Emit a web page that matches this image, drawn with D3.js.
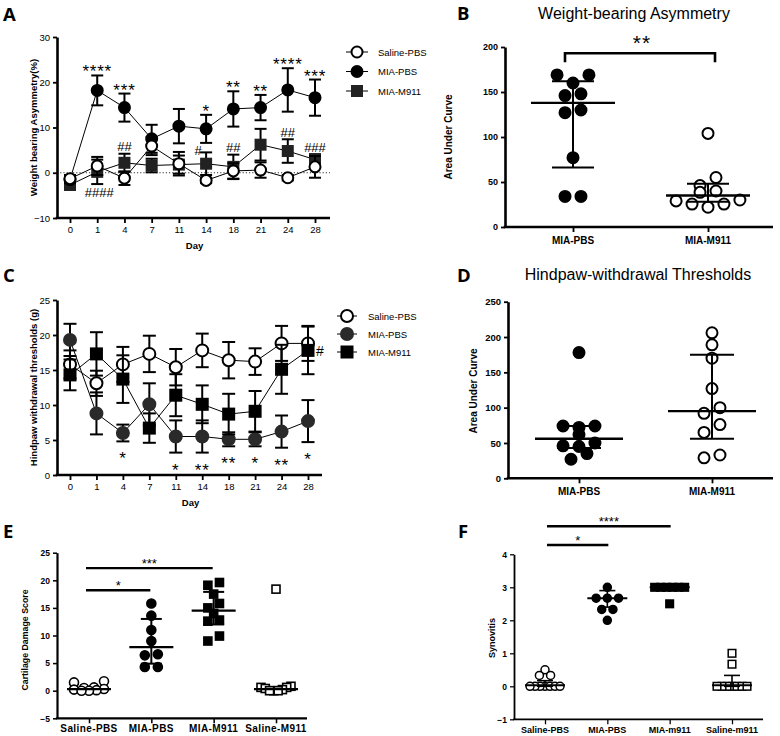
<!DOCTYPE html>
<html><head><meta charset="utf-8">
<script src="https://cdn.jsdelivr.net/npm/d3@7"></script>
<style>body{margin:0;background:#fff} svg{display:block}</style>
</head><body><svg id="c" width="780" height="736"></svg>
<script>
// ---------- DATA ----------
const days = ["0","1","4","7","11","14","18","21","24","28"];
const groupNames = ["Saline-PBS","MIA-PBS","MIA-M911"];

// Panel A: weight bearing asymmetry (%), mean and SEM
const wbSaline    = [-1.3, 1.5, -1.2, 5.9, 2.0, -1.7, 0.4, 0.6, -1.1, 1.3];
const wbSalineErr = [0.8, 2.0, 1.5, 2.0, 2.6, 0.6, 1.7, 1.7, 0.6, 2.4];
const wbMia       = [-1.5, 18.2, 14.4, 7.5, 10.3, 9.7, 14.1, 14.4, 18.3, 16.6];
const wbMiaErr    = [0.8, 3.3, 3.1, 3.1, 3.8, 3.1, 3.9, 2.8, 4.8, 4.0];
const wbM911      = [-2.7, 0.2, 2.2, 1.6, 1.8, 2.0, 1.3, 6.2, 4.8, 2.9];
const wbM911Err   = [1.0, 2.7, 2.0, 1.5, 2.0, 2.5, 2.7, 3.5, 2.6, 1.2];
const wbStars     = ["", "****", "***", "", "", "*", "**", "**", "****", "***"];
const wbHashAbove = ["", "", "##", "", "", "#", "##", "", "##", "###"];
const wbHashBelow = ["", "####", "", "", "", "", "", "", "", ""];

// Panel C: hindpaw withdrawal thresholds (g), mean and SEM
const hwSaline    = [15.8, 13.1, 15.8, 17.3, 15.4, 17.8, 16.4, 16.2, 18.8, 18.8];
const hwSalineErr = [2.0, 1.8, 2.5, 2.6, 2.6, 2.4, 2.6, 1.9, 2.5, 2.5];
const hwMia       = [19.3, 8.8, 6.0, 10.1, 5.5, 5.5, 5.1, 5.1, 6.2, 7.7];
const hwMiaErr    = [2.3, 3.0, 1.2, 3.0, 2.3, 2.3, 1.0, 1.0, 2.3, 3.0];
const hwM911      = [14.3, 17.3, 13.7, 6.7, 11.4, 10.1, 8.7, 9.1, 15.1, 17.8];
const hwM911Err   = [2.2, 3.1, 3.4, 2.1, 3.0, 2.7, 2.9, 2.9, 3.5, 3.4];
const hwStars     = ["", "", "*", "", "*", "**", "**", "*", "**", "*"];
const hwHash      = ["", "", "", "", "", "", "", "", "", "#"];

// Panel B: weight-bearing AUC
const aucCats     = ["MIA-PBS", "MIA-M911"];
const wbAucMia    = [169, 169, 160, 148, 146, 130, 127, 77, 34, 34];
const wbAucM911   = [104, 55, 46, 40, 38.5, 30, 29, 25.5, 25.5, 22];
const wbAucCenter = [138, 35];
const wbAucUpper  = [162, 48];
const wbAucLower  = [66, 28];

// Panel D: hindpaw-withdrawal AUC
const hwAucMia    = [178, 74, 74, 72, 62, 50, 46, 45, 35, 27];
const hwAucM911   = [206, 189, 170, 127, 100, 92, 76, 65, 33, 29];
const hwAucCenter = [56, 95];
const hwAucUpper  = [74, 175];
const hwAucLower  = [43, 56];

// Panel E: cartilage damage score
const cartCats       = ["Saline-PBS","MIA-PBS","MIA-M911","Saline-M911"];
const cartSalinePbs  = [1.7, 1.5, 0.6, 0.5, 0.3, 0.2, 0.1, 0, 0];
const cartMiaPbs     = [15.8, 13.6, 11.0, 9.0, 6.6, 6.4, 4.3, 4.3];
const cartMiaM911    = [19.6, 19.1, 17.5, 15.8, 15.0, 14.0, 12.8, 12.6, 9.9, 9.0];
const cartSalineM911 = [18.4, 0.8, 0.6, 0.6, 0.4, 0.2, 0, 0, 0];
const cartCenter     = [0.3, 7.9, 14.5, 0.3];
const cartUpper      = [0.3, 13.0, 17.9, 0.3];
const cartLower      = [0.3, 4.9, 12.0, 0.3];

// Panel F: synovitis
const synCats       = ["Saline-PBS","MIA-PBS","MIA-m911","Saline-m911"];
const synSalinePbs  = [0.5, 0.33, 0.33, 0, 0, 0, 0, 0, 0, 0];
const synMiaPbs     = [3, 2.67, 2.67, 2.67, 2.33, 2.33, 2];
const synMiaM911    = [3, 3, 3, 3, 3, 3, 2.5];
const synSalineM911 = [1, 0.67, 0, 0, 0, 0, 0, 0, 0];
const synCenter     = [0.03, 2.67, 3.0, 0.03];
const synUpper      = [0.17, 2.9, 3.0, 0.33];
const synLower      = [0, 2.4, 3.0, 0];

// ---------- DRAWING ----------
const FONT = '"Liberation Sans", Arial, Helvetica, sans-serif';
const svg = d3.select("#c");

function txt(g, x, y, s, size, opts = {}) {
  const t = g.append("text").attr("x", x).attr("y", y).text(s)
    .attr("font-family", opts.family || FONT).attr("font-size", size)
    .attr("font-weight", opts.bold ? "bold" : "normal")
    .attr("text-anchor", opts.anchor || "middle").attr("fill", "#000");
  if (opts.ls) t.attr("letter-spacing", opts.ls);
  if (opts.rot) t.attr("transform", `rotate(-90,${x},${y})`).attr("dominant-baseline", "central");
  return t;
}

function marker(g, type, cx, cy, s, fill, sw) {
  const stroke = "#000";
  if (type === "circle") {
    g.append("circle").attr("cx", cx).attr("cy", cy).attr("r", s)
      .attr("fill", fill).attr("stroke", fill === "#fff" ? stroke : fill).attr("stroke-width", sw);
  } else {
    g.append("rect").attr("x", cx - s).attr("y", cy - s).attr("width", 2 * s).attr("height", 2 * s)
      .attr("fill", fill).attr("stroke", fill === "#fff" ? stroke : fill).attr("stroke-width", sw);
  }
}

function yAxis(y, ax, ticks, o) {
  const a = d3.axisLeft(y).tickValues(ticks).tickFormat(d3.format("d")).tickSize(o.tick || 4).tickSizeOuter(0).tickPadding(o.pad || 3);
  const g = svg.append("g").attr("transform", `translate(${ax},0)`).call(a);
  g.select(".domain").attr("stroke", "#000").attr("stroke-width", o.sw);
  g.selectAll(".tick line").attr("stroke", "#000").attr("stroke-width", o.sw * 0.7);
  g.selectAll(".tick text").attr("font-family", FONT).attr("font-size", o.fs)
    .attr("font-weight", o.bold ? "bold" : "normal").attr("fill", "#000");
}

function xAxis(x, yb, ax0, ax1, o) {
  const a = d3.axisBottom(x).tickSize(o.tick || 5).tickSizeOuter(0).tickPadding(o.pad || 3);
  const g = svg.append("g").attr("transform", `translate(0,${yb})`).call(a);
  g.select(".domain").remove();
  g.selectAll(".tick line").attr("stroke", "#000").attr("stroke-width", o.sw * 0.7);
  g.selectAll(".tick text").attr("font-family", FONT).attr("font-size", o.fs)
    .attr("font-weight", o.bold ? "bold" : "normal").attr("fill", "#000");
  if (o.hideLabels) g.selectAll(".tick text").remove();
  svg.append("line").attr("x1", ax0 - o.sw / 2).attr("x2", ax1).attr("y1", yb).attr("y2", yb)
    .attr("stroke", "#000").attr("stroke-width", o.sw);
  return g;
}

function drawLinePanel(o) {
  const x = d3.scalePoint().domain(days).range([o.px0, o.px1]);
  const y = d3.scaleLinear().domain(o.yDom).range([o.yb, o.yt]);
  if (o.zeroLine) {
    svg.append("line").attr("x1", o.ax).attr("x2", o.axEnd).attr("y1", y(0)).attr("y2", y(0))
      .attr("stroke", "#333").attr("stroke-width", 1).attr("stroke-dasharray", "1.2,2");
  }
  yAxis(y, o.ax, o.yTicks, { sw: 2.6, fs: 9.5, tick: 4, pad: 3 });
  xAxis(x, o.yb, o.ax, o.axEnd, { sw: 2.6, fs: 9.5, tick: 5, pad: 3 });
  txt(svg, (o.ax + o.axEnd) / 2 + 1, o.yb + 31, "Day", 9.5, { bold: true });
  txt(svg, o.ylabX, (o.yb + o.yt) / 2, o.ylab, 9.5, { bold: true, rot: true });

  o.drawOrder.forEach(k => {
    const s = o.series[k];
    const g = svg.append("g");
    const line = d3.line().x((d, i) => x(days[i])).y(d => y(d));
    g.append("path").attr("d", line(s.mean)).attr("fill", "none").attr("stroke", "#000").attr("stroke-width", 1);
    s.mean.forEach((m, i) => {
      const cx = x(days[i]), e = s.err[i];
      g.append("line").attr("x1", cx).attr("x2", cx).attr("y1", y(m - e)).attr("y2", y(m + e))
        .attr("stroke", "#000").attr("stroke-width", 2);
      [m - e, m + e].forEach(v => g.append("line").attr("x1", cx - o.cap).attr("x2", cx + o.cap)
        .attr("y1", y(v)).attr("y2", y(v)).attr("stroke", "#000").attr("stroke-width", 2));
    });
    s.mean.forEach((m, i) => marker(g, s.type, x(days[i]), y(m), s.type === "circle" ? o.r : o.sq, s.fill, 2));
  });

  groupNames.forEach((nm, i) => {
    const s = o.series[i];
    const ly = o.legY + i * o.legDy;
    svg.append("line").attr("x1", o.legX - o.legHalf).attr("x2", o.legX + o.legHalf).attr("y1", ly).attr("y2", ly)
      .attr("stroke", "#000").attr("stroke-width", 1);
    marker(svg, s.type, o.legX, ly, s.type === "circle" ? o.r : o.sq, s.fill, 2);
    txt(svg, o.legX + 21, ly + 3.5, nm, 9.5, { anchor: "start" });
  });
  return { x, y };
}

function swarm(values, y, d, spacingF, maxHalf, rowF) {
  const pts = values.map(v => ({ v, py: y(v), dx: 0 })).sort((a, b) => a.py - b.py);
  const rows = [];
  pts.forEach(p => {
    const last = rows[rows.length - 1];
    if (last && p.py - last[0].py < d * rowF) last.push(p); else rows.push([p]);
  });
  rows.forEach(row => {
    const n = row.length;
    const s = n > 1 ? Math.min(d * spacingF, 2 * maxHalf / (n - 1)) : 0;
    const sorted = row.slice().sort((a, b) => b.py - a.py);
    const slots = d3.range(n).map(i => (i - (n - 1) / 2) * s);
    const ord = slots.slice().sort((a, b) => Math.abs(a) - Math.abs(b) || a - b);
    sorted.forEach((p, i) => p.dx = ord[i]);
  });
  return pts;
}

function drawScatterPanel(o) {
  const x = d3.scalePoint().domain(o.cats).range([o.c0, o.c1]);
  const y = d3.scaleLinear().domain(o.yDom).range([o.yb, o.yt]);
  yAxis(y, o.ax, o.yTicks, { sw: o.sw, fs: o.tfs, tick: 4, pad: 3, bold: true });
  xAxis(x, o.yb, o.ax, o.axEnd, { sw: o.sw, fs: o.cfs, tick: 5, pad: 3, bold: true, hideLabels: true });
  o.cats.forEach(c => txt(svg, x(c), o.catY, c, o.cfs, { bold: true, ls: o.cls || 0 }));
  txt(svg, o.ylabX, o.ylabY, o.ylab, o.yfs, { bold: true, rot: true });
  if (o.title) txt(svg, o.titleX, o.titleY, o.title, 16);

  o.groups.forEach((grp, gi) => {
    const cx = x(o.cats[gi]);
    const d = (grp.type === "circle" ? o.r : o.sq) * 2;
    const pts = swarm(grp.vals, y, d, o.spF, o.maxHalf, o.rowF);
    const g = svg.append("g");
    pts.forEach(p => marker(g, grp.type, cx + p.dx, p.py, grp.type === "circle" ? o.r : o.sq, grp.fill, o.msw));
    const c = o.center[gi], up = o.upper[gi], lo = o.lower[gi];
    g.append("line").attr("x1", cx).attr("x2", cx).attr("y1", y(lo)).attr("y2", y(up)).attr("stroke", "#000").attr("stroke-width", o.lsw);
    if (up !== c) g.append("line").attr("x1", cx - o.capHalf).attr("x2", cx + o.capHalf).attr("y1", y(up)).attr("y2", y(up)).attr("stroke", "#000").attr("stroke-width", o.lsw);
    if (lo !== c) g.append("line").attr("x1", cx - o.capHalf).attr("x2", cx + o.capHalf).attr("y1", y(lo)).attr("y2", y(lo)).attr("stroke", "#000").attr("stroke-width", o.lsw);
    g.append("line").attr("x1", cx - o.cHalf).attr("x2", cx + o.cHalf).attr("y1", y(c)).attr("y2", y(c)).attr("stroke", "#000").attr("stroke-width", o.lsw + 0.3);
  });
  return { x, y };
}

// ---------- Panel A ----------
const A = drawLinePanel({
  px0: 70, px1: 315, ax: 57, axEnd: 330, yb: 218, yt: 37, yDom: [-10, 30], yTicks: [-10, 0, 10, 20, 30],
  zeroLine: true, ylab: "Weight bearing Asymmetry(%)", ylabX: 33,
  series: [
    { mean: wbSaline, err: wbSalineErr, type: "circle", fill: "#fff" },
    { mean: wbMia, err: wbMiaErr, type: "circle", fill: "#000" },
    { mean: wbM911, err: wbM911Err, type: "square", fill: "#222" }
  ],
  drawOrder: [2, 1, 0], r: 5.5, sq: 5, cap: 6,
  legX: 357, legY: 52, legDy: 19.5, legHalf: 11
});
wbStars.forEach((s, i) => { if (s) txt(svg, A.x(days[i]), A.y(wbMia[i] + wbMiaErr[i]) + 2, s, 17, { ls: 0.8 }); });
wbHashAbove.forEach((s, i) => { if (s) txt(svg, A.x(days[i]) + (s === "#" ? -8 : 0), A.y(wbM911[i] + wbM911Err[i]) - 2.5 + (s === "#" ? 5 : 0), s, 13); });
wbHashBelow.forEach((s, i) => { if (s) txt(svg, A.x(days[i]) + 2, A.y(wbM911[i] - wbM911Err[i]) + 13, s, 13); });

// ---------- Panel C ----------
const C = drawLinePanel({
  px0: 70, px1: 308, ax: 57, axEnd: 322, yb: 475, yt: 300, yDom: [0, 25], yTicks: [0, 5, 10, 15, 20, 25],
  zeroLine: false, ylab: "Hindpaw withdrawal thresholds (g)", ylabX: 33,
  series: [
    { mean: hwSaline, err: hwSalineErr, type: "circle", fill: "#fff" },
    { mean: hwMia, err: hwMiaErr, type: "circle", fill: "#2a2a2a" },
    { mean: hwM911, err: hwM911Err, type: "square", fill: "#000" }
  ],
  drawOrder: [0, 1, 2], r: 6, sq: 5.5, cap: 6.5,
  legX: 347, legY: 316, legDy: 18, legHalf: 10
});
hwStars.forEach((s, i) => { if (s) txt(svg, C.x(days[i]), C.y(hwMia[i] - hwMiaErr[i]) + 23, s, 17, { ls: 0.8 }); });
hwHash.forEach((s, i) => { if (s) txt(svg, C.x(days[i]) + 8, C.y(hwM911[i]) + 6, s, 14, { anchor: "start" }); });

// ---------- Panel B ----------
const B = drawScatterPanel({
  cats: aucCats, c0: 573, c1: 708, ax: 505, axEnd: 773, yb: 227, yt: 47, yDom: [0, 200], yTicks: [0, 50, 100, 150, 200],
  sw: 2.6, tfs: 9, cfs: 10, catY: 244, ylab: "Area Under Curve", ylabX: 448, ylabY: 137, yfs: 10,
  title: "Weight-bearing Asymmetry", titleX: 634, titleY: 19,
  groups: [{ vals: wbAucMia, type: "circle", fill: "#000" }, { vals: wbAucM911, type: "circle", fill: "#fff" }],
  center: wbAucCenter, upper: wbAucUpper, lower: wbAucLower,
  r: 5.5, sq: 5, msw: 2, spF: 1.45, maxHalf: 36, rowF: 0.75, lsw: 2, capHalf: 21, cHalf: 42
});
{
  const yb = B.y(193), yt = B.y(183);
  svg.append("path").attr("d", `M${565},${yt}V${yb}H${715}V${yt}`).attr("fill", "none").attr("stroke", "#000").attr("stroke-width", 2.6);
  txt(svg, 642, yb - 3, "**", 21, { ls: 1 });
}

// ---------- Panel D ----------
drawScatterPanel({
  cats: aucCats, c0: 579, c1: 712, ax: 508, axEnd: 773, yb: 478.3, yt: 301.7, yDom: [0, 250], yTicks: [0, 50, 100, 150, 200, 250],
  sw: 2.6, tfs: 9.5, cfs: 10, catY: 495, ylab: "Area Under Curve", ylabX: 473.5, ylabY: 391, yfs: 10,
  title: "Hindpaw-withdrawal Thresholds", titleX: 638, titleY: 280,
  groups: [{ vals: hwAucMia, type: "circle", fill: "#000" }, { vals: hwAucM911, type: "circle", fill: "#fff" }],
  center: hwAucCenter, upper: hwAucUpper, lower: hwAucLower,
  r: 5.5, sq: 5, msw: 2, spF: 1.45, maxHalf: 36, rowF: 0.75, lsw: 2, capHalf: 22, cHalf: 44
});

// ---------- Panel E ----------
const E = drawScatterPanel({
  cats: cartCats, c0: 89, c1: 276, ax: 57, axEnd: 307, yb: 718.3, yt: 552.7, yDom: [-5, 25], yTicks: [-5, 0, 5, 10, 15, 20, 25],
  sw: 2.2, tfs: 8.5, cfs: 10, cls: 0.4, catY: 731.5, ylab: "Cartilage Damage Score", ylabX: 24.5, ylabY: 640, yfs: 8.8,
  groups: [
    { vals: cartSalinePbs, type: "circle", fill: "#fff" },
    { vals: cartMiaPbs, type: "circle", fill: "#000" },
    { vals: cartMiaM911, type: "square", fill: "#000" },
    { vals: cartSalineM911, type: "square", fill: "#fff" }
  ],
  center: cartCenter, upper: cartUpper, lower: cartLower,
  r: 4.5, sq: 4, msw: 1.6, spF: 1.45, maxHalf: 15, rowF: 0.75, lsw: 2, capHalf: 10.5, cHalf: 22
});
[[0, 1, 18.2, "*"], [0, 2, 22.2, "***"]].forEach(([a, b, v, s]) => {
  const x1 = E.x(cartCats[a]) - 3, x2 = E.x(cartCats[b]) - 1, yy = E.y(v);
  svg.append("line").attr("x1", x1).attr("x2", x2).attr("y1", yy).attr("y2", yy).attr("stroke", "#000").attr("stroke-width", 2.4);
  txt(svg, (x1 + x2) / 2, yy - 0.5, s, 13);
});

// ---------- Panel F ----------
const Fp = drawScatterPanel({
  cats: synCats, c0: 545, c1: 732, ax: 514, axEnd: 763, yb: 719.3, yt: 554.3, yDom: [-1, 4], yTicks: [-1, 0, 1, 2, 3, 4],
  sw: 1.8, tfs: 8.5, cfs: 9, catY: 732.5, ylab: "Synovitis", ylabX: 492, ylabY: 638, yfs: 9,
  groups: [
    { vals: synSalinePbs, type: "circle", fill: "#fff" },
    { vals: synMiaPbs, type: "circle", fill: "#000" },
    { vals: synMiaM911, type: "square", fill: "#000" },
    { vals: synSalineM911, type: "square", fill: "#fff" }
  ],
  center: synCenter, upper: synUpper, lower: synLower,
  r: 4, sq: 3.8, msw: 1.5, spF: 1.4, maxHalf: 15, rowF: 0.6, lsw: 1.6, capHalf: 8, cHalf: 20
});
[[0, 1, 4.28, "*"], [0, 2, 4.85, "****"]].forEach(([a, b, v, s]) => {
  const x1 = Fp.x(synCats[a]) + 2, x2 = Fp.x(synCats[b]) + 1, yy = Fp.y(v);
  svg.append("line").attr("x1", x1).attr("x2", x2).attr("y1", yy).attr("y2", yy).attr("stroke", "#000").attr("stroke-width", 2.4);
  txt(svg, (x1 + x2) / 2, yy - 0.5, s, 13);
});

// ---------- Panel letters ----------
[["A", 3, 20.5], ["B", 457, 19.5], ["C", 3, 282], ["D", 457, 282], ["E", 3, 538], ["F", 458, 538]].forEach(([l, x, y]) =>
  txt(svg, x, y, l, 18.5, { bold: true, anchor: "start", family: '"Open Sans", "Liberation Sans", sans-serif' }));
</script>
</body></html>
